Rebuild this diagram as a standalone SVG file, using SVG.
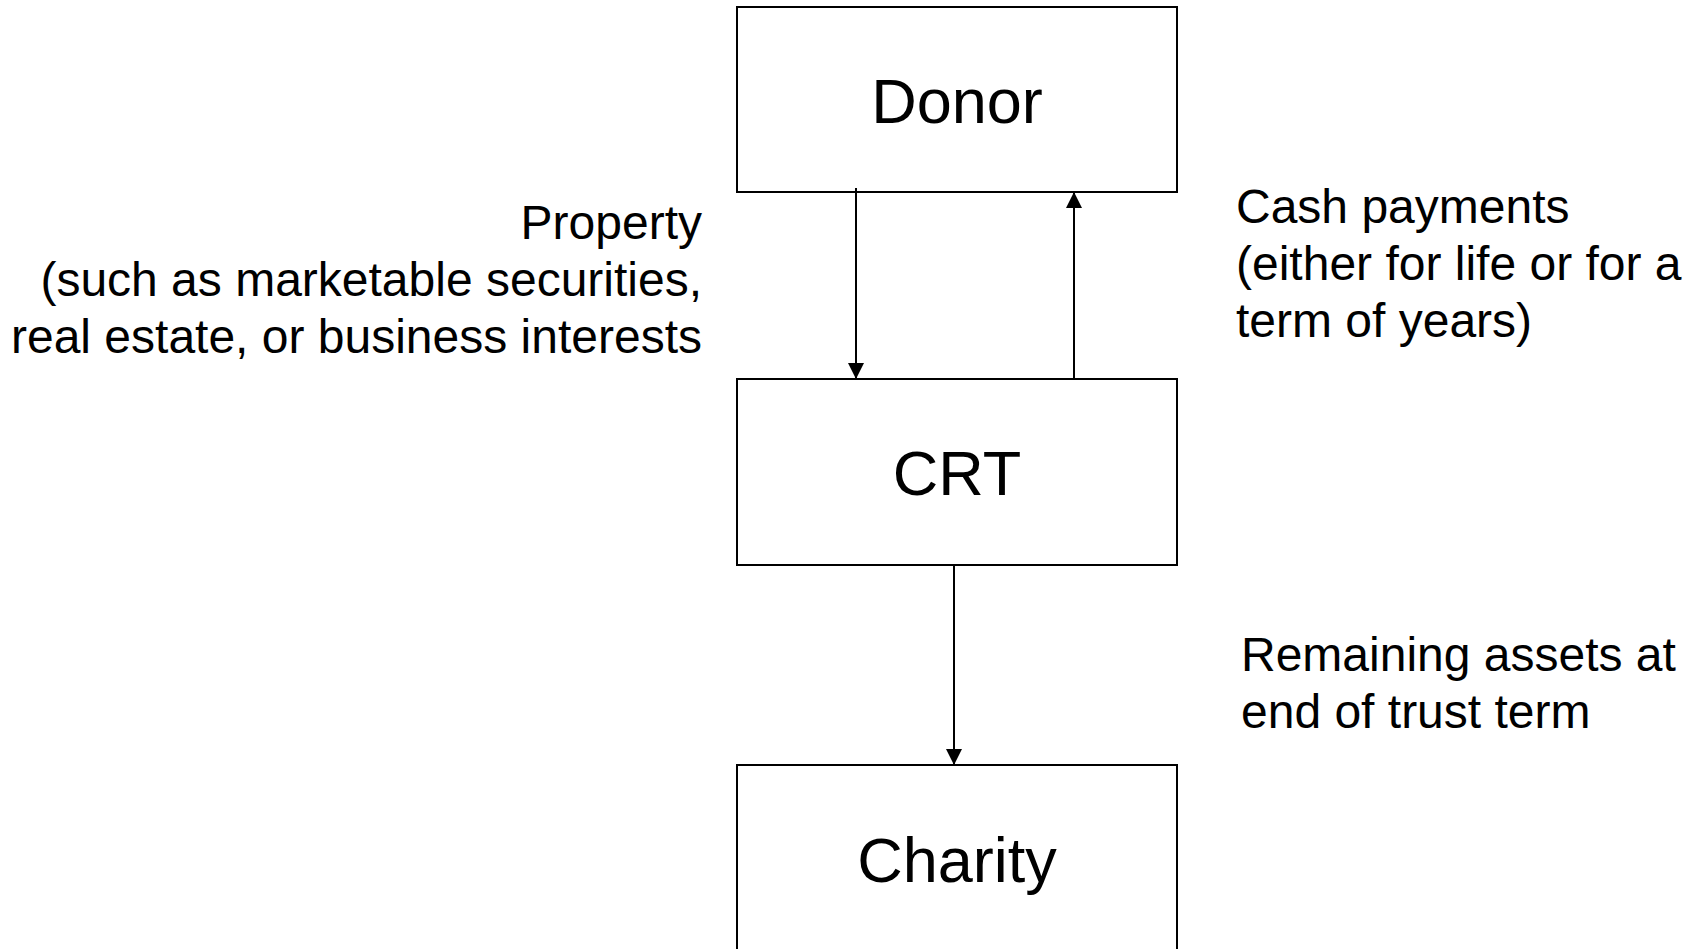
<svg xmlns="http://www.w3.org/2000/svg" width="1692" height="949" viewBox="0 0 1692 949">
<style>
.box{fill:#fff;stroke:#000;stroke-width:2}
.node{font-family:"Liberation Sans",Arial,sans-serif;font-size:63px;fill:#000;text-anchor:middle}
.lbl{font-family:"Liberation Sans",Arial,sans-serif;font-size:48px;fill:#000}
.edge{stroke:#000;stroke-width:2;fill:none}
</style>
<defs>
<marker id="ah" markerUnits="userSpaceOnUse" viewBox="0 0 16 16" refX="16" refY="8" markerWidth="16" markerHeight="16" orient="auto">
<path d="M0,0 L16,8 L0,16 Z" fill="#000"/>
</marker>
</defs>
<rect width="1692" height="949" fill="#fff"/>
<g id="donor">
<rect class="box" x="737" y="7" width="440" height="185"/>
<text class="node" x="957" y="123">Donor</text>
</g>
<g id="crt">
<rect class="box" x="737" y="379" width="440" height="186"/>
<text class="node" x="957" y="495">CRT</text>
</g>
<g id="charity">
<rect class="box" x="737" y="765" width="440" height="200"/>
<text class="node" x="957" y="882">Charity</text>
</g>
<g id="connectors">
<line class="edge" x1="856" y1="188" x2="856" y2="379" marker-end="url(#ah)"/>
<line class="edge" x1="1074" y1="379" x2="1074" y2="192" marker-end="url(#ah)"/>
<line class="edge" x1="954" y1="565" x2="954" y2="765" marker-end="url(#ah)"/>
</g>
<g id="labels">
<text class="lbl" text-anchor="end"><tspan x="702" y="239">Property</tspan><tspan x="702" y="296">(such as marketable securities,</tspan><tspan x="702" y="353">real estate, or business interests</tspan></text>
<text class="lbl"><tspan x="1236" y="223">Cash payments</tspan><tspan x="1236" y="280">(either for life or for a</tspan><tspan x="1236" y="337">term of years)</tspan></text>
<text class="lbl"><tspan x="1241" y="671">Remaining assets at</tspan><tspan x="1241" y="728">end of trust term</tspan></text>
</g>
</svg>
